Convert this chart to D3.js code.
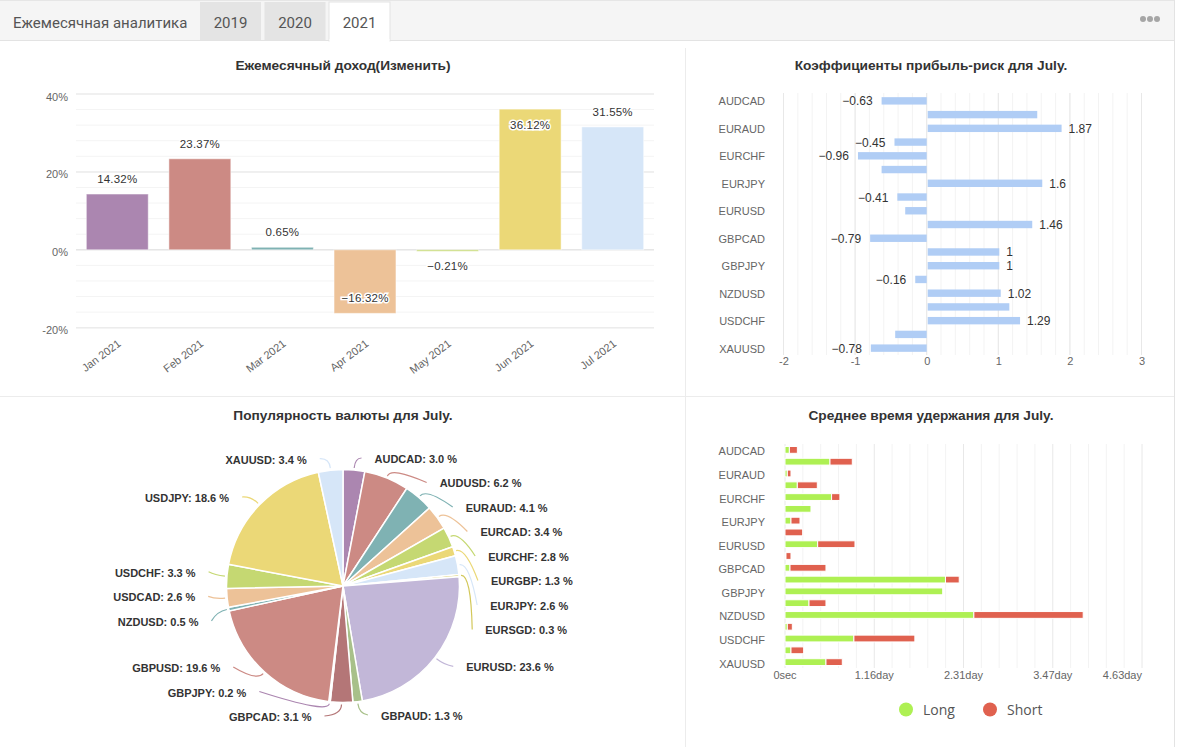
<!DOCTYPE html>
<html>
<head>
<meta charset="utf-8">
<script src="https://cdn.jsdelivr.net/npm/d3@7"></script>
<style>
  body { margin: 0; background: #fff; }
  svg { display: block; font-family: "Liberation Sans", Arial, sans-serif; }
</style>
</head>
<body>
<div id="chart"></div>
<script>
// Chart data
var tabs = ["2019", "2020", "2021"];
var months = ["Jan 2021", "Feb 2021", "Mar 2021", "Apr 2021", "May 2021", "Jun 2021", "Jul 2021"];
var monthlyReturns = [14.32, 23.37, 0.65, -16.32, -0.21, 36.12, 31.55];
var returnTicks = [-20, 0, 20, 40];

var symbols = ["AUDCAD", "AUDUSD", "EURAUD", "EURCAD", "EURCHF", "EURGBP", "EURJPY", "EURSGD", "EURUSD",
  "GBPAUD", "GBPCAD", "GBPCHF", "GBPJPY", "GBPUSD", "NZDUSD", "USDCAD", "USDCHF", "USDJPY", "XAUUSD"];
var riskRatios = [-0.63, 1.53, 1.87, -0.45, -0.96, -0.63, 1.6, -0.41, -0.3, 1.46,
  -0.79, 1, 1, -0.16, 1.02, 1.14, 1.29, -0.44, -0.78];
var riskLabeled = [true, false, true, true, true, false, true, true, false, true,
  true, true, true, true, true, false, true, false, true];
var riskTicks = [-2, -1, 0, 1, 2, 3];

var pieSymbols = ["AUDCAD", "AUDUSD", "EURAUD", "EURCAD", "EURCHF", "EURGBP", "EURJPY", "EURSGD", "EURUSD",
  "GBPAUD", "GBPCAD", "GBPJPY", "GBPUSD", "NZDUSD", "USDCAD", "USDCHF", "USDJPY", "XAUUSD"];
var pieShares = [3.0, 6.2, 4.1, 3.4, 2.8, 1.3, 2.6, 0.3, 23.6, 1.3, 3.1, 0.2, 19.6, 0.5, 2.6, 3.3, 18.6, 3.4];

// average holding time in seconds
var holdLong = [4900, 50400, 2600, 13800, 52200, 29100, 6700, 0, 36600, 1100,
  5600, 179800, 176700, 26900, 211600, 2600, 77200, 6700, 45900];
var holdShort = [8950, 25000, 4100, 22400, 9300, 0, 10100, 19800, 41800, 5600,
  40300, 15400, 0, 19000, 122500, 5600, 68300, 14200, 18300];
var holdTicks = [0, 100000, 200000, 300000, 400000];
var holdTickLabels = ["0sec", "1.16day", "2.31day", "3.47day", "4.63day"];
var holdSeries = ["Long", "Short"];

var palette = ["#ab86b0", "#cc8a84", "#7fb2b3", "#edc298", "#c5d872", "#ebd877", "#d6e6f8",
  "#d3c85a", "#c2b7d8", "#a8c08a", "#b47677"];
var holdColors = ["#aef053", "#e0614f"];

var svgWidth = 1178;
var svgHeight = 747;

var svg = d3.select("#chart")
  .append("svg")
  .attr("width", svgWidth)
  .attr("height", svgHeight);

// Header with tabs
svg.append("rect")
  .attr("x", 0).attr("y", 0)
  .attr("width", 1174).attr("height", 40)
  .attr("fill", "#f5f5f5");
svg.append("line")
  .attr("x1", 0).attr("x2", 1174).attr("y1", 0.5).attr("y2", 0.5)
  .attr("stroke", "#e6e6e6");
svg.append("line")
  .attr("x1", 0).attr("x2", 1174).attr("y1", 40.5).attr("y2", 40.5)
  .attr("stroke", "#e3e3e3");
svg.append("line")
  .attr("x1", 1174.5).attr("x2", 1174.5).attr("y1", 0).attr("y2", svgHeight)
  .attr("stroke", "#e3e3e3");

svg.append("text")
  .attr("x", 13).attr("y", 28)
  .attr("font-family", "Roboto, sans-serif")
  .attr("font-size", 15)
  .attr("fill", "#555")
  .text("Ежемесячная аналитика");

var tabX = [200, 264.5, 329];
tabs.forEach(function (t, i) {
  var active = i === tabs.length - 1;
  svg.append("rect")
    .attr("x", tabX[i]).attr("y", 2)
    .attr("width", 61).attr("height", active ? 39 : 38)
    .attr("fill", active ? "#fff" : "#e4e4e4")
    .attr("stroke", active ? "#e3e3e3" : "none");
  svg.append("text")
    .attr("x", tabX[i] + 30.5).attr("y", 28)
    .attr("text-anchor", "middle")
    .attr("font-family", "Roboto, sans-serif")
    .attr("font-size", 15)
    .attr("fill", "#555")
    .text(t);
});
// cover border under the active tab
svg.append("rect")
  .attr("x", 329.5).attr("y", 39).attr("width", 60).attr("height", 3)
  .attr("fill", "#fff");

[1143, 1150, 1157].forEach(function (cx) {
  svg.append("circle").attr("cx", cx).attr("cy", 19).attr("r", 3).attr("fill", "#a6a6a6");
});

// Panel dividers
svg.append("line")
  .attr("x1", 685.5).attr("x2", 685.5).attr("y1", 48).attr("y2", svgHeight)
  .attr("stroke", "#ececec");
svg.append("line")
  .attr("x1", 0).attr("x2", 1174).attr("y1", 396.5).attr("y2", 396.5)
  .attr("stroke", "#ececec");

// Panel titles
var titles = [
  { x: 343, y: 70, t: "Ежемесячный доход(Изменить)" },
  { x: 931, y: 70, t: "Коэффициенты прибыль-риск для July." },
  { x: 343, y: 420, t: "Популярность валюты для July." },
  { x: 931, y: 420, t: "Среднее время удержания для July." }
];
titles.forEach(function (d) {
  svg.append("text")
    .attr("x", d.x).attr("y", d.y)
    .attr("text-anchor", "middle")
    .attr("font-size", 13.7)
    .attr("font-weight", "bold")
    .attr("fill", "#333")
    .text(d.t);
});

// ---------- Monthly returns bar chart ----------
var xMonth = d3.scaleBand()
  .domain(months)
  .range([76, 654])
  .paddingInner(0.25)
  .paddingOuter(0.125);

var yReturn = d3.scaleLinear()
  .domain([-20, 40])
  .range([327.7, 94]);

var g1 = svg.append("g");

// minor grid every 4%
g1.selectAll(".minor")
  .data(d3.range(-20, 41, 4))
  .enter()
  .append("line")
  .attr("x1", 76).attr("x2", 654)
  .attr("y1", d => yReturn(d)).attr("y2", d => yReturn(d))
  .attr("stroke", "#f4f4f4");

g1.selectAll(".major")
  .data(returnTicks)
  .enter()
  .append("line")
  .attr("x1", 76).attr("x2", 654)
  .attr("y1", d => yReturn(d)).attr("y2", d => yReturn(d))
  .attr("stroke", d => d === 0 ? "#e6e6e6" : "#ececec")
  .attr("stroke-width", 1.5);

var leftAxis = d3.axisLeft(yReturn)
  .tickValues(returnTicks)
  .tickFormat(d => d + "%")
  .tickSize(0)
  .tickPadding(8);

g1.append("g")
  .attr("transform", "translate(76,2.5)")
  .call(leftAxis)
  .call(g => g.select(".domain").remove())
  .selectAll("text")
  .attr("font-size", 11)
  .attr("font-family", "Liberation Sans, Arial, sans-serif")
  .attr("fill", "#666");

g1.selectAll(".bar")
  .data(monthlyReturns)
  .enter()
  .append("rect")
  .attr("x", (d, i) => xMonth(months[i]))
  .attr("y", d => yReturn(Math.max(0, d)))
  .attr("width", xMonth.bandwidth())
  .attr("height", d => Math.max(1.5, Math.abs(yReturn(d) - yReturn(0))))
  .attr("fill", (d, i) => palette[i])
  .attr("stroke", "#fff")
  .attr("stroke-opacity", 0.5);

g1.selectAll(".barLabel")
  .data(monthlyReturns)
  .enter()
  .append("text")
  .attr("x", (d, i) => xMonth(months[i]) + xMonth.bandwidth() / 2)
  .attr("y", function (d) {
    var end = yReturn(d);
    var pos;
    if (d >= 0) {
      pos = end - 15;
      if (pos - yReturn(40) < 12) pos = end + 16;
    } else {
      pos = end + 15;
      if (yReturn(-20) - pos < 12) pos = end - 15;
    }
    return pos + 4;
  })
  .attr("text-anchor", "middle")
  .attr("font-size", 11.5)
  .attr("letter-spacing", 0.2)
  .attr("fill", "#333")
  .attr("stroke", "#fff")
  .attr("stroke-width", 3)
  .attr("paint-order", "stroke")
  .text(d => d.toFixed(2).replace("-", "−") + "%");

g1.selectAll(".monthLabel")
  .data(months)
  .enter()
  .append("text")
  .attr("transform", d => `translate(${xMonth(d) + xMonth.bandwidth() / 2 + 2}, 342) rotate(-37)`)
  .attr("text-anchor", "end")
  .attr("dy", "0.35em")
  .attr("font-size", 11)
  .attr("fill", "#666")
  .text(d => d);

// ---------- Profit-risk horizontal bar chart ----------
var xRisk = d3.scaleLinear()
  .domain([-2, 3])
  .range([783.5, 1141.5]);

var yRisk = d3.scaleBand()
  .domain(symbols)
  .range([94, 355]);

var g2 = svg.append("g");

g2.selectAll(".rminor")
  .data(d3.range(-2, 3.01, 0.2))
  .enter()
  .append("line")
  .attr("x1", d => xRisk(d)).attr("x2", d => xRisk(d))
  .attr("y1", 93).attr("y2", 355)
  .attr("stroke", "#f3f3f3");

g2.selectAll(".rmajor")
  .data(riskTicks)
  .enter()
  .append("line")
  .attr("x1", d => xRisk(d)).attr("x2", d => xRisk(d))
  .attr("y1", 93).attr("y2", 355)
  .attr("stroke", "#e8e8e8");

g2.append("g")
  .attr("transform", "translate(0,355)")
  .call(d3.axisBottom(xRisk).tickValues(riskTicks).tickFormat(d => String(d)).tickSize(0).tickPadding(2))
  .call(g => g.select(".domain").remove())
  .selectAll("text")
  .attr("font-size", 11)
  .attr("font-family", "Liberation Sans, Arial, sans-serif")
  .attr("fill", "#666");

g2.selectAll(".rbar")
  .data(riskRatios)
  .enter()
  .append("rect")
  .attr("x", d => xRisk(Math.min(0, d)) + (d > 0 ? 1 : 0))
  .attr("y", (d, i) => yRisk(symbols[i]) + yRisk.bandwidth() / 2 - 3.7)
  .attr("width", d => Math.abs(xRisk(d) - xRisk(0)))
  .attr("height", 7.4)
  .attr("fill", "#b0cdf5");

g2.selectAll(".rlabel")
  .data(riskRatios.map((v, i) => ({ v: v, i: i })).filter(d => riskLabeled[d.i]))
  .enter()
  .append("text")
  .attr("x", d => d.v >= 0 ? xRisk(d.v) + 8 : xRisk(d.v) - 9)
  .attr("y", d => yRisk(symbols[d.i]) + yRisk.bandwidth() / 2 + 4.5)
  .attr("text-anchor", d => d.v >= 0 ? "start" : "end")
  .attr("font-size", 12)
  .attr("fill", "#333")
  .text(d => String(d.v).replace("-", "−"));

g2.selectAll(".rcat")
  .data(symbols.filter((s, i) => i % 2 === 0))
  .enter()
  .append("text")
  .attr("x", 765)
  .attr("y", d => yRisk(d) + yRisk.bandwidth() / 2 + 4.5)
  .attr("text-anchor", "end")
  .attr("font-size", 11)
  .attr("fill", "#666")
  .text(d => d);

// ---------- Currency popularity pie ----------
var cx = 343, cy = 586, radius = 116.5;
var pie = d3.pie().sort(null).value(d => d);
var arcs = pie(pieShares);
var arc = d3.arc().innerRadius(0).outerRadius(radius);

var g3 = svg.append("g");

g3.selectAll(".slice")
  .data(arcs)
  .enter()
  .append("path")
  .attr("transform", `translate(${cx},${cy})`)
  .attr("d", arc)
  .attr("fill", (d, i) => palette[i % palette.length])
  .attr("stroke", "#fff")
  .attr("stroke-width", 1.5);

// label placement on a rounded box around the pie
var lcy = cy + 2, la = 148, lb = 129, lbShape = 131, spacing = 24.5;
var labels = arcs.map(function (d, i) {
  var mid = (d.startAngle + d.endAngle) / 2;
  return { i: i, mid: mid, right: mid < Math.PI, y: lcy - lb * Math.cos(mid) };
});

[true, false].forEach(function (side) {
  var group = labels.filter(l => l.right === side).sort((a, b) => a.y - b.y);
  for (var k = 0; k < 300; k++) {
    for (var j = 0; j < group.length - 1; j++) {
      var gap = group[j + 1].y - group[j].y;
      if (gap < spacing) {
        var push = (spacing - gap) / 2;
        group[j].y -= push;
        group[j + 1].y += push;
      }
    }
    group.forEach(function (l) {
      l.y = Math.max(lcy - lb, Math.min(lcy + lb, l.y));
    });
  }
});

labels.forEach(function (l) {
  var t = Math.min(1, Math.abs(l.y - lcy) / lbShape);
  var dx = la * Math.pow(1 - Math.pow(t, 2.2), 1 / 2.2);
  l.x = l.right ? cx + dx : cx - dx;
});

g3.selectAll(".leader")
  .data(labels)
  .enter()
  .append("path")
  .attr("d", function (l) {
    var p0 = [cx + (radius + 2) * Math.sin(l.mid), cy - (radius + 2) * Math.cos(l.mid)];
    var p1 = [cx + (radius + 12) * Math.sin(l.mid), cy - (radius + 12) * Math.cos(l.mid)];
    var p2 = [l.right ? l.x - 13 : l.x + 13, l.y - 1];
    return `M${p0[0]},${p0[1]}Q${p1[0]},${p1[1]} ${p2[0]},${p2[1]}`;
  })
  .attr("fill", "none")
  .attr("stroke", l => palette[l.i % palette.length])
  .attr("stroke-width", 1.2);

g3.selectAll(".plabel")
  .data(labels)
  .enter()
  .append("text")
  .attr("x", l => l.x)
  .attr("y", l => l.y + 4)
  .attr("text-anchor", l => l.right ? "start" : "end")
  .attr("font-size", 11)
  .attr("font-weight", "bold")
  .attr("fill", "#333")
  .text(l => pieSymbols[l.i] + ": " + pieShares[l.i].toFixed(1) + " %");

// ---------- Average holding time stacked bars ----------
var xHold = d3.scaleLinear()
  .domain([0, 400000])
  .range([785, 1142]);

var yHold = d3.scaleBand()
  .domain(symbols)
  .range([444, 668]);

var g4 = svg.append("g");

g4.selectAll(".hminor")
  .data(d3.range(0, 400001, 20000))
  .enter()
  .append("line")
  .attr("x1", d => xHold(d)).attr("x2", d => xHold(d))
  .attr("y1", 444).attr("y2", 668)
  .attr("stroke", d => d % 100000 === 0 ? "#e8e8e8" : "#f3f3f3");

g4.selectAll(".htick")
  .data(holdTicks)
  .enter()
  .append("text")
  .attr("x", d => xHold(d))
  .attr("y", 679)
  .attr("text-anchor", (d, i) => i === holdTicks.length - 1 ? "end" : "middle")
  .attr("font-size", 11)
  .attr("fill", "#666")
  .text((d, i) => holdTickLabels[i]);

var stacked = d3.stack().keys([0, 1])(symbols.map((s, i) => [holdLong[i], holdShort[i]]));

g4.selectAll(".series")
  .data(stacked)
  .enter()
  .append("g")
  .attr("fill", (d, k) => holdColors[k])
  .selectAll("rect")
  .data(d => d)
  .enter()
  .append("rect")
  .attr("x", d => xHold(d[0]))
  .attr("y", (d, i) => yHold(symbols[i]) + yHold.bandwidth() / 2 - 3.4)
  .attr("width", d => Math.max(0, xHold(d[1]) - xHold(d[0])))
  .attr("height", 6.8)
  .attr("stroke", "#fff")
  .attr("stroke-width", d => d[1] > d[0] ? 1 : 0);

g4.selectAll(".hcat")
  .data(symbols.filter((s, i) => i % 2 === 0))
  .enter()
  .append("text")
  .attr("x", 765)
  .attr("y", d => yHold(d) + yHold.bandwidth() / 2 + 5.5)
  .attr("text-anchor", "end")
  .attr("font-size", 11)
  .attr("fill", "#666")
  .text(d => d);

// legend
var legendX = [906, 990];
holdSeries.forEach(function (name, k) {
  svg.append("circle")
    .attr("cx", legendX[k]).attr("cy", 709.5).attr("r", 7)
    .attr("fill", holdColors[k]);
  svg.append("text")
    .attr("x", legendX[k] + 17).attr("y", 715)
    .attr("font-size", 14)
    .attr("font-family", "Open Sans, sans-serif")
    .attr("fill", "#555")
    .text(name);
});
</script>
</body>
</html>
